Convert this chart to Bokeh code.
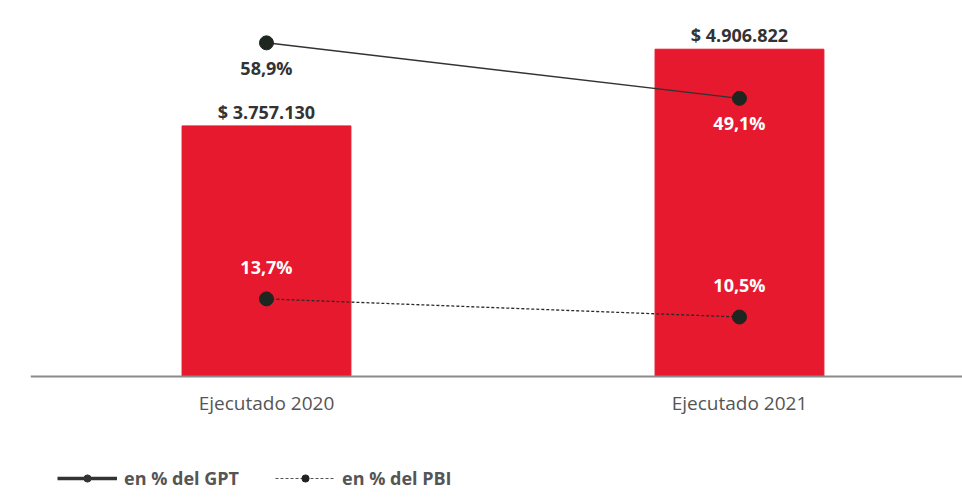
from bokeh.plotting import figure
from bokeh.models import (ColumnDataSource, Range1d, Span, LabelSet, Legend, LegendItem)
from bokeh.core.properties import value
from bokeh.embed import file_html
from bokeh.resources import INLINE

categories = ["Ejecutado 2020", "Ejecutado 2021"]
amounts = [3757130, 4906822]
amount_labels = ["$ 3.757.130", "$ 4.906.822"]
pct_gpt = [58.9, 49.1]
pct_gpt_labels = ["58,9%", "49,1%"]
pct_pbi = [13.7, 10.5]
pct_pbi_labels = ["13,7%", "10,5%"]

FONT = value("Open Sans")
RED = "#E6192E"
DOT = "#1e2620"
gpt_label_colors = ["#333333", "white"]

xs = list(range(len(categories)))
src = ColumnDataSource(dict(x=xs, cat=categories, amt=amounts, amt_lbl=amount_labels,
                            gpt=pct_gpt, gpt_lbl=pct_gpt_labels, gpt_col=gpt_label_colors,
                            pbi=pct_pbi, pbi_lbl=pct_pbi_labels))

p = figure(width=962, height=502, output_backend="svg", toolbar_location=None,
           x_range=Range1d(-0.4989, 1.4715), y_range=Range1d(-1889000, 5637000),
           min_border_left=30, min_border_right=0, min_border_top=0, min_border_bottom=0,
           x_axis_type=None, y_axis_type=None)
p.outline_line_color = None
p.xgrid.visible = False
p.ygrid.visible = False
p.background_fill_color = "white"
p.border_fill_color = "white"
p.extra_y_ranges = {"pct": Range1d(-22.25, 66.38)}

p.vbar(x="x", top="amt", bottom=0, width=0.357, color=RED, source=src)

# baseline (category axis line)
p.add_layout(Span(location=0, dimension="width", line_color="#8a8a8a", line_width=2))

l1 = p.line(x="x", y="gpt", y_range_name="pct", line_color="#333333", line_width=1.5, source=src)
s1 = p.scatter(x="x", y="gpt", y_range_name="pct", size=14, color=DOT, source=src)
l2 = p.line(x="x", y="pbi", y_range_name="pct", line_color="#2a2a2a", line_width=1.3,
            line_dash="3 2", source=src)
s2 = p.scatter(x="x", y="pbi", y_range_name="pct", size=14, color=DOT, source=src)

p.add_layout(LabelSet(x="x", y="amt", text="amt_lbl", source=src, y_offset=14,
                      text_align="center", text_baseline="middle", text_font=FONT,
                      text_font_size="18px", text_font_style="bold", text_color="#333333"))
p.add_layout(LabelSet(x="x", y="gpt", text="gpt_lbl", source=src, y_range_name="pct",
                      y_offset=-25, text_align="center", text_baseline="middle",
                      text_font=FONT, text_font_size="18px", text_font_style="bold",
                      text_color="gpt_col"))
p.add_layout(LabelSet(x="x", y="pbi", text="pbi_lbl", source=src, y_range_name="pct",
                      y_offset=32, text_align="center", text_baseline="middle",
                      text_font=FONT, text_font_size="18px", text_font_style="bold",
                      text_color="white"))
# category labels
p.add_layout(LabelSet(x="x", y=0, text="cat", source=src, y_offset=-27,
                      text_align="center", text_baseline="middle", text_font=FONT,
                      text_font_size="19px", text_color="#555555"))

# legend-only renderers (hidden in plot, drawn in legend)
lg1 = p.line(x="x", y="gpt", y_range_name="pct", source=src, line_color="#333333",
             line_width=3.5, visible=False)
lg1s = p.scatter(x="x", y="gpt", y_range_name="pct", source=src, size=6, color="#333333",
                 visible=False)
lg2 = p.line(x="x", y="pbi", y_range_name="pct", source=src, line_color="#555555",
             line_width=1, line_dash="3 2", visible=False)
lg2s = p.scatter(x="x", y="pbi", y_range_name="pct", source=src, size=10, color="#222222",
                 visible=False)

legend = Legend(items=[LegendItem(label="en % del GPT", renderers=[lg1, lg1s]),
                       LegendItem(label="en % del PBI", renderers=[lg2, lg2s])],
                orientation="horizontal", location=(27, 12),
                glyph_width=60, glyph_height=18, label_text_font="Open Sans",
                label_text_font_size="18px", label_text_font_style="bold",
                label_text_color="#555555", spacing=36, padding=0, margin=0,
                label_standoff=7, border_line_color=None, background_fill_alpha=0,
                inactive_fill_alpha=0)
p.add_layout(legend, "center")

with open("out.html", "w") as f:
    f.write(file_html(p, INLINE))
